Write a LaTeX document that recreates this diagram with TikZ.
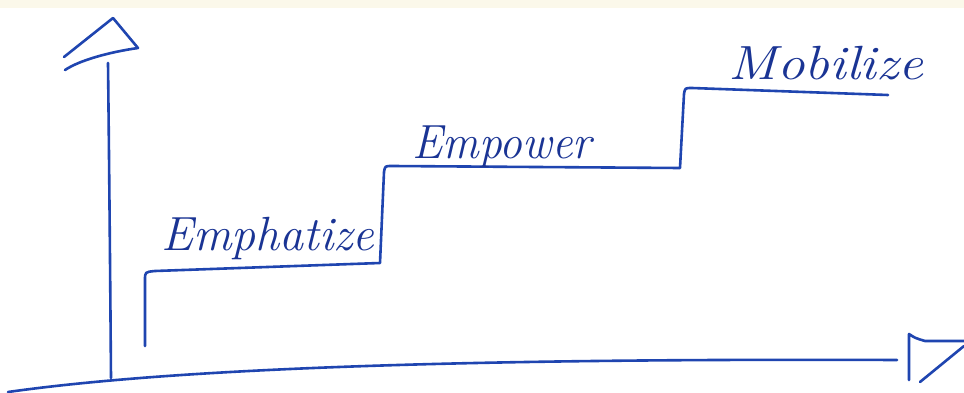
\documentclass[tikz,border=0pt]{standalone}
\definecolor{penblue}{HTML}{1F45B0}
\definecolor{inkblue}{HTML}{1A3494}
\definecolor{cream}{HTML}{FBF8EA}
\begin{document}
\begin{tikzpicture}[x=1pt,y=-1pt,
  pen/.style={draw=penblue, line width=2.6pt, line cap=round, line join=round},
  lbl/.style={text=inkblue, font=\fontsize{48}{52}\selectfont\itshape, inner sep=0pt, anchor=base}]
\fill[white] (0,0) rectangle (964,393);
\fill[cream] (0,0) rectangle (964,8);
\useasboundingbox (0,0) rectangle (964,393);
% vertical axis
\draw[pen] (111,378) .. controls (110,250) and (109,150) .. (108,63);
\draw[pen] (64,57) -- (113,18) -- (138,48) .. controls (110,52) and (80,60) .. (65,70);
% horizontal axis
\draw[pen] (8,392) .. controls (150,372) and (400,358) .. (897,360);
\draw[pen] (909,380) -- (909,334) .. controls (915,338) .. (925,341) -- (964,341);
\draw[pen] (964,346) -- (920,382);
% stairs
\draw[pen] (145,346) -- (145,280) .. controls (145,272) .. (155,271) -- (380,263)
  -- (384,172) .. controls (385,166) .. (392,166) -- (680,168)
  -- (684,94) .. controls (685,88) .. (692,88) -- (888,95);
% labels
\node[lbl, xscale=1.0] (emph) at (268,250) {Emphatize};
\node[lbl, xscale=0.95] (empw) at (502,158) {Empower};
\node[lbl, xscale=1.15] (mob) at (826,80) {Mobilize};
\end{tikzpicture}
\end{document}
